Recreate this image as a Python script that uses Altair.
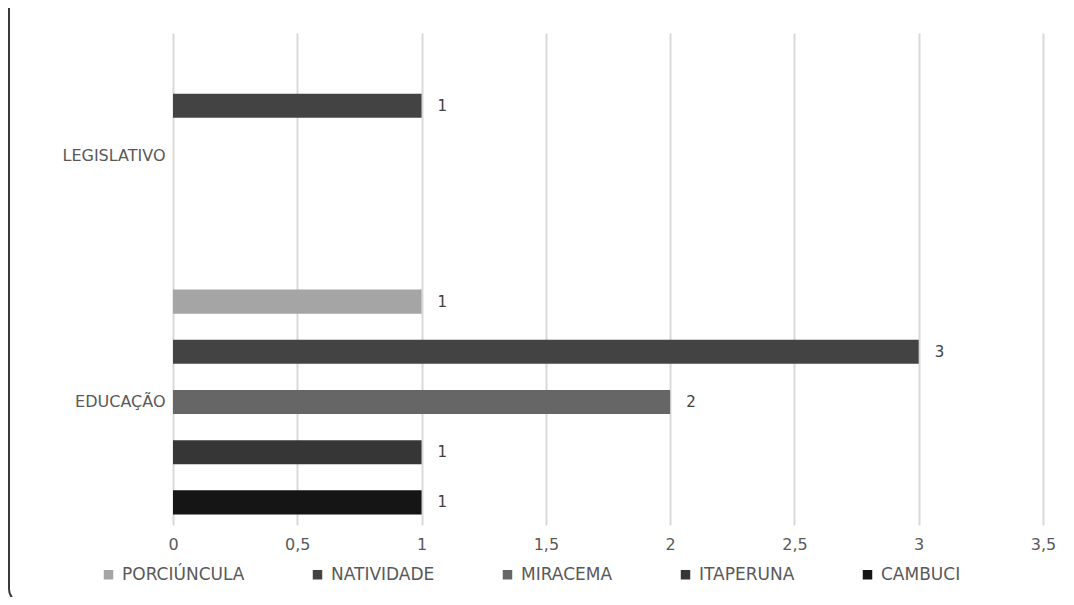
import altair as alt
import pandas as pd

categories = ["LEGISLATIVO", "EDUCAÇÃO", "EDUCAÇÃO", "EDUCAÇÃO", "EDUCAÇÃO", "EDUCAÇÃO"]
series = ["NATIVIDADE", "PORCIÚNCULA", "NATIVIDADE", "MIRACEMA", "ITAPERUNA", "CAMBUCI"]
values = [1, 1, 3, 2, 1, 1]

cat_order = ["LEGISLATIVO", "EDUCAÇÃO"]
series_order = ["PORCIÚNCULA", "NATIVIDADE", "MIRACEMA", "ITAPERUNA", "CAMBUCI"]
series_colors = ["#a5a5a5", "#434343", "#666666", "#363636", "#151515"]
x_ticks = [0, 0.5, 1, 1.5, 2, 2.5, 3, 3.5]

df = pd.DataFrame({"cat": categories, "serie": series, "valor": values})

FONT = "DejaVu Sans"

y_enc = alt.Y("cat:N", sort=cat_order, title=None,
              scale=alt.Scale(domain=cat_order, paddingInner=0, paddingOuter=0),
              axis=alt.Axis(ticks=False, domain=False, labelPadding=8, labelFontSize=16,
                            labelColor="#595959", labelFont=FONT))
yoff_enc = alt.YOffset("serie:N", sort=series_order,
                       scale=alt.Scale(domain=series_order, paddingInner=0.52, paddingOuter=0.21))
x_enc = alt.X("valor:Q", title=None,
              scale=alt.Scale(domain=[0, 3.5], nice=False),
              axis=alt.Axis(values=x_ticks, ticks=False, domain=False, grid=True,
                            gridColor="#d9d9d9", gridWidth=2, labelPadding=11,
                            labelFlush=False, labelFontSize=16, labelColor="#595959",
                            labelFont=FONT,
                            labelExpr="replace(format(datum.value, '~g'), '.', ',')"))

bars = alt.Chart(df).mark_bar().encode(
    y=y_enc, yOffset=yoff_enc, x=x_enc,
    color=alt.Color("serie:N", sort=series_order,
                    scale=alt.Scale(domain=series_order, range=series_colors),
                    legend=alt.Legend(title=None, orient="none", legendX=-73, legendY=533,
                                      direction="horizontal", columns=5, symbolType="square",
                                      symbolSize=90, symbolStrokeWidth=0, labelFontSize=17,
                                      labelColor="#595959", labelFont=FONT, columnPadding=64,
                                      labelOffset=5)),
)

labels = alt.Chart(df).mark_text(align="left", baseline="middle", dx=16, fontSize=15,
                                 color="#404040", font=FONT).encode(
    y=alt.Y("cat:N", sort=cat_order), yOffset=alt.YOffset("serie:N", sort=series_order),
    x="valor:Q", text="valor:Q")

frame = alt.Chart(alt.Data(values=[{}])).mark_rect(
    filled=False, stroke="#3a3a3a", strokeWidth=2, cornerRadius=14, clip=False
).encode(x=alt.value(-164), x2=alt.value(1000), y=alt.value(-80), y2=alt.value(570))

chart = alt.layer(frame, bars, labels).properties(
    width=870, height=492,
    autosize=alt.AutoSizeParams(type="none"),
    padding={"left": 165, "top": 25, "right": 20, "bottom": 72},
).configure_view(stroke=None)

chart.save("out.html", embed_options={"renderer": "svg", "actions": False})
